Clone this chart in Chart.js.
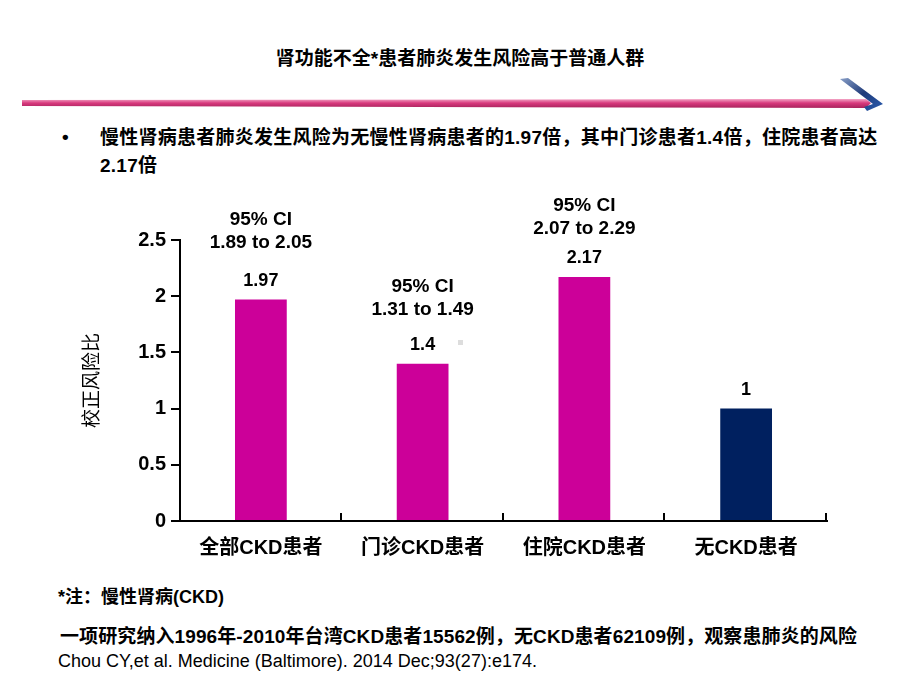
<!DOCTYPE html>
<html>
<head>
<meta charset="utf-8">
<script src="https://cdn.jsdelivr.net/npm/chart.js@4.4.1/dist/chart.umd.min.js"></script>
<style>
	body { margin: 0; background: #fff; }
	#page { position: relative; width: 920px; height: 690px; overflow: hidden; background: #fff;
		font-family: "Liberation Sans", "Noto Sans CJK SC", sans-serif; color: #000; }
	.txt { position: absolute; white-space: nowrap; }
	#title { left: 0; width: 920px; top: 43px; text-align: center; font-size: 19px; font-weight: bold; }
	#bullet { left: 62px; top: 126px; font-size: 19px; font-weight: bold; }
	#lead { left: 100px; top: 124px; font-size: 19px; font-weight: bold; line-height: 28px; letter-spacing: 0.25px; }
	#note1 { left: 58px; top: 582px; font-size: 18px; font-weight: bold; }
	#note2 { left: 60px; top: 621px; font-size: 19px; font-weight: bold; letter-spacing: 0.1px; }
	#note3 { left: 58px; top: 651px; font-size: 18px; }
	#myChart { position: absolute; left: 0; top: 190px; }
	#dot { position: absolute; left: 458px; top: 340px; width: 5px; height: 5px; background: #ddd; }
</style>
</head>
<body>
<div id="page">
	<div class="txt" id="title">肾功能不全*患者肺炎发生风险高于普通人群</div>
	<svg style="position:absolute;left:0;top:70px" width="920" height="50">
		<defs>
			<linearGradient id="pink" x1="0" y1="0" x2="0" y2="1">
				<stop offset="0" stop-color="#f3a6c6"/>
				<stop offset="0.45" stop-color="#d8397d"/>
				<stop offset="1" stop-color="#a8235c"/>
			</linearGradient>
			<linearGradient id="navy" x1="0" y1="0" x2="1" y2="1">
				<stop offset="0" stop-color="#8aa0c8"/>
				<stop offset="0.5" stop-color="#1f3b7a"/>
				<stop offset="1" stop-color="#2a5cb0"/>
			</linearGradient>
		</defs>
		<path d="M22 30 L866 29 L871 33 L866 38 L22 36 Z" fill="url(#pink)"/>
		<path d="M840 9 L848 8 L883 34 L867 41 L864 37 L873 34 Z" fill="url(#navy)"/>
	</svg>
	<div class="txt" id="bullet">•</div>
	<div class="txt" id="lead">慢性肾病患者肺炎发生风险为无慢性肾病患者的1.97倍，其中门诊患者1.4倍，住院患者高达<br>2.17倍</div>
	<canvas id="myChart" width="920" height="380"></canvas>
	<div id="dot"></div>
	<div class="txt" id="note1">*注：慢性肾病(CKD)</div>
	<div class="txt" id="note2">一项研究纳入1996年-2010年台湾CKD患者15562例，无CKD患者62109例，观察患肺炎的风险</div>
	<div class="txt" id="note3">Chou CY,et al. Medicine (Baltimore). 2014 Dec;93(27):e174.</div>
</div>
<script>
var categories = ["全部CKD患者", "门诊CKD患者", "住院CKD患者", "无CKD患者"];
var hazardRatio = [1.97, 1.4, 2.17, 1];
var ciLow = [1.89, 1.31, 2.07, null];
var ciHigh = [2.05, 1.49, 2.29, null];
var yTicks = [0, 0.5, 1, 1.5, 2, 2.5];

var barColors = ["#CC0099", "#CC0099", "#CC0099", "#00205F"];
var fontFamily = "'Liberation Sans', 'Noto Sans CJK SC', sans-serif";

// labels above the bars, plus the small tick marks on the x axis
var barLabels = {
	id: "barLabels",
	afterDatasetsDraw: function(chart) {
		var ctx = chart.ctx;
		var meta = chart.getDatasetMeta(0);
		var ciGap = [80, 77, 71, 0];
		ctx.save();
		ctx.fillStyle = "#000";
		ctx.textAlign = "center";
		ctx.textBaseline = "middle";
		meta.data.forEach(function(bar, i) {
			ctx.font = "bold 18px " + fontFamily;
			ctx.fillText(String(hazardRatio[i]), bar.x, bar.y - 19);
			if (ciLow[i] !== null) {
				ctx.font = "bold 19px " + fontFamily;
				ctx.fillText("95% CI", bar.x, bar.y - ciGap[i]);
				ctx.fillText(ciLow[i].toFixed(2) + " to " + ciHigh[i].toFixed(2), bar.x, bar.y - ciGap[i] + 23);
			}
		});
		var x = chart.scales.x;
		var w = x.width / categories.length;
		ctx.strokeStyle = "#000";
		ctx.lineWidth = 2;
		for (var i = 1; i <= categories.length; i++) {
			var px = Math.round(x.left + i * w) - 1;
			ctx.beginPath();
			ctx.moveTo(px, x.top);
			ctx.lineTo(px, x.top - 8);
			ctx.stroke();
		}
		ctx.restore();
	}
};

var ctx = document.getElementById("myChart");

var myBarChart = new Chart(ctx, {
	type: "bar",
	data: {
		labels: categories,
		datasets: [
			{
				data: hazardRatio,
				backgroundColor: barColors,
				hoverBackgroundColor: barColors,
				borderWidth: 0,
				categoryPercentage: 1,
				barPercentage: 0.32
			}
		]
	},
	options: {
		responsive: false,
		animation: false,
		devicePixelRatio: 1,
		layout: {
			padding: { left: 0, top: 50, right: 93, bottom: 0 }
		},
		plugins: {
			legend: { display: false },
			tooltip: { enabled: false }
		},
		scales: {
			x: {
				grid: { display: false, drawTicks: false },
				border: { display: true, color: "#000", width: 2 },
				ticks: {
					color: "#000",
					padding: 15,
					font: { family: fontFamily, size: 20, weight: "bold" }
				},
				afterFit: function(scale) { scale.height = 49; }
			},
			y: {
				min: 0,
				max: 2.5,
				afterBuildTicks: function(scale) {
					scale.ticks = yTicks.map(function(v) { return { value: v }; });
				},
				grid: { drawOnChartArea: false, drawTicks: true, tickLength: 9, color: "#000", lineWidth: 2 },
				border: { display: true, color: "#000", width: 2 },
				ticks: {
					color: "#000",
					padding: 5,
					font: { family: fontFamily, size: 20, weight: "bold" },
					callback: function(v) { return String(v); }
				},
				title: {
					display: true,
					text: "校正风险比",
					color: "#000",
					padding: { top: 81, bottom: 0 },
					font: { family: fontFamily, size: 19 }
				},
				afterFit: function(scale) { scale.width = 180; }
			}
		}
	},
	plugins: [barLabels]
});
</script>
</body>
</html>
